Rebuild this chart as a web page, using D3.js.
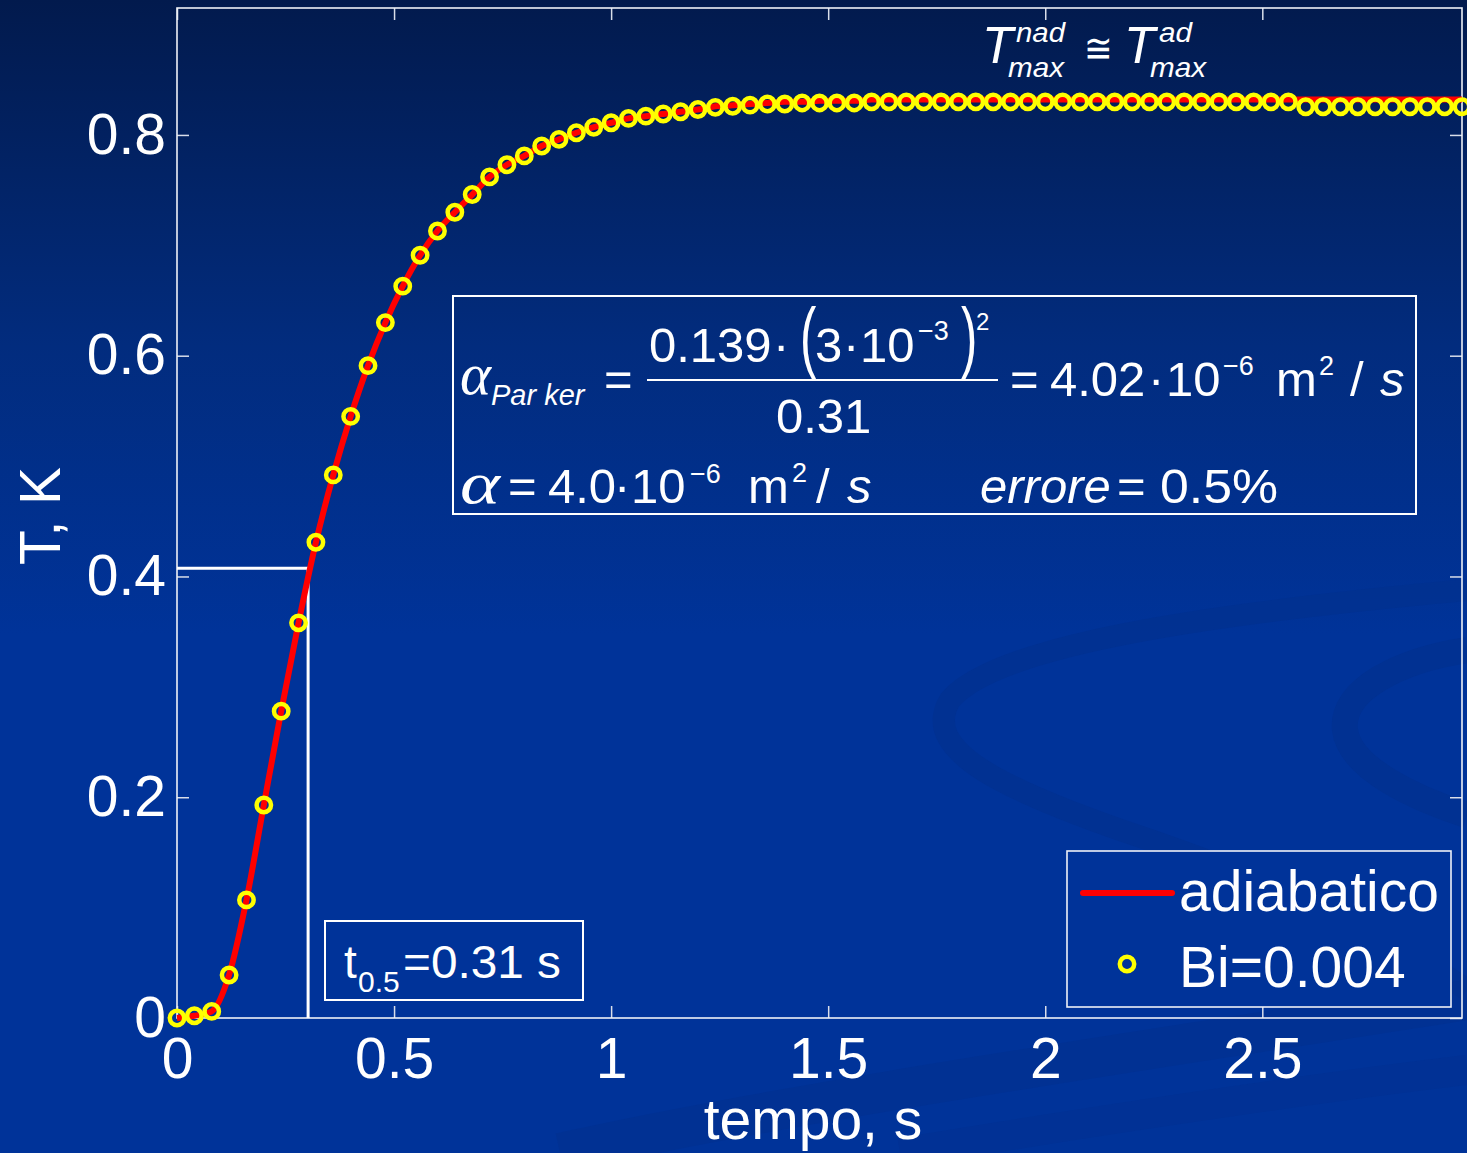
<!DOCTYPE html>
<html>
<head>
<meta charset="utf-8">
<script src="https://cdn.jsdelivr.net/npm/d3@7"></script>
<style>
  html, body { margin: 0; padding: 0; background: #003399; }
  svg { display: block; }
</style>
</head>
<body>
<svg id="chart" width="1467" height="1153"></svg>
<script>
// time samples (s)
const times = [0.00, 0.04, 0.08, 0.12, 0.16, 0.20, 0.24, 0.28, 0.32, 0.36,
  0.40, 0.44, 0.48, 0.52, 0.56, 0.60, 0.64, 0.68, 0.72, 0.76,
  0.80, 0.84, 0.88, 0.92, 0.96, 1.00, 1.04, 1.08, 1.12, 1.16,
  1.20, 1.24, 1.28, 1.32, 1.36, 1.40, 1.44, 1.48, 1.52, 1.56,
  1.60, 1.64, 1.68, 1.72, 1.76, 1.80, 1.84, 1.88, 1.92, 1.96,
  2.00, 2.04, 2.08, 2.12, 2.16, 2.20, 2.24, 2.28, 2.32, 2.36,
  2.40, 2.44, 2.48, 2.52, 2.56, 2.60, 2.64, 2.68, 2.72, 2.76,
  2.80, 2.84, 2.88, 2.92, 2.96];

// adiabatico (red line), T in K
const adiabatico = [0.000, 0.002, 0.006, 0.039, 0.107, 0.193, 0.278, 0.358, 0.431, 0.492,
  0.545, 0.591, 0.630, 0.663, 0.691, 0.713, 0.730, 0.746, 0.762, 0.773,
  0.781, 0.790, 0.796, 0.802, 0.807, 0.811, 0.815, 0.817, 0.819, 0.821,
  0.823, 0.826, 0.827, 0.828, 0.829, 0.830, 0.830, 0.831, 0.831, 0.831,
  0.832, 0.832, 0.832, 0.832, 0.832, 0.832, 0.832, 0.832, 0.832, 0.832,
  0.832, 0.832, 0.832, 0.832, 0.832, 0.832, 0.832, 0.832, 0.832, 0.832,
  0.832, 0.832, 0.832, 0.832, 0.832, 0.832, 0.832, 0.832, 0.832, 0.832,
  0.832, 0.832, 0.832, 0.832, 0.832];

// Bi=0.004 (yellow circles), T in K
const bi004 = [0.000, 0.002, 0.006, 0.039, 0.107, 0.193, 0.278, 0.358, 0.431, 0.492,
  0.545, 0.591, 0.630, 0.663, 0.691, 0.713, 0.730, 0.746, 0.762, 0.773,
  0.781, 0.790, 0.796, 0.802, 0.807, 0.811, 0.815, 0.817, 0.819, 0.821,
  0.823, 0.825, 0.826, 0.827, 0.828, 0.828, 0.829, 0.829, 0.829, 0.829,
  0.830, 0.830, 0.830, 0.830, 0.830, 0.830, 0.830, 0.830, 0.830, 0.830,
  0.830, 0.830, 0.830, 0.830, 0.830, 0.830, 0.830, 0.830, 0.830, 0.830,
  0.830, 0.830, 0.830, 0.830, 0.830, 0.8255, 0.8255, 0.8255, 0.8255, 0.8255,
  0.8255, 0.8255, 0.8255, 0.8255, 0.8255];

const xTicks = [0, 0.5, 1, 1.5, 2, 2.5];
const yTicks = [0, 0.2, 0.4, 0.6, 0.8];
const xTickLabels = ["0", "0.5", "1", "1.5", "2", "2.5"];
const yTickLabels = ["0", "0.2", "0.4", "0.6", "0.8"];

// half-rise guide lines
const halfTime = 0.302;
const halfTemp = 0.4075;

const seriesNames = ["adiabatico", "Bi=0.004"];

const svg = d3.select("#chart");
const W = 1467, H = 1153;
const FONT = "'Liberation Sans', Arial, sans-serif";
const SERIF = "'Liberation Serif', 'DejaVu Serif', serif";

// Background gradient
const defs = svg.append("defs");
const grad = defs.append("linearGradient")
    .attr("id", "bg").attr("x1", 0).attr("y1", 0).attr("x2", 0).attr("y2", 1);
grad.append("stop").attr("offset", 0).attr("stop-color", "#021a4d");
grad.append("stop").attr("offset", 0.3).attr("stop-color", "#022c7e");
grad.append("stop").attr("offset", 0.55).attr("stop-color", "#003399");
grad.append("stop").attr("offset", 1).attr("stop-color", "#003399");
svg.append("rect").attr("width", W).attr("height", H).attr("fill", "url(#bg)");

// Faint swirl decoration of the slide theme
const deco = svg.append("g").attr("fill", "none").attr("stroke", "#02308e");
deco.append("path")
    .attr("d", "M1467,590 C1250,610 1000,640 950,700 C920,750 1000,790 1150,840 C1280,885 1380,930 1467,990")
    .attr("stroke-width", 22).attr("opacity", 0.7);
deco.append("path")
    .attr("d", "M1467,650 C1400,660 1340,690 1345,730 C1350,770 1420,800 1467,815")
    .attr("stroke-width", 26).attr("opacity", 0.7);
deco.append("path")
    .attr("d", "M560,1153 C800,1100 1150,1050 1467,1000")
    .attr("stroke-width", 40).attr("opacity", 0.5);
deco.append("path")
    .attr("d", "M900,1153 C1100,1120 1300,1090 1467,1070")
    .attr("stroke-width", 30).attr("opacity", 0.4);

// Scales
const x = d3.scaleLinear().domain([0, 2.96]).range([177, 1462]);
const y = d3.scaleLinear().domain([0, 0.915]).range([1018, 8]);

// Axes (ticks inside on all four sides)
const tickColor = "#d9deea";
function styleAxis(g) {
  g.select(".domain").remove();
  g.selectAll(".tick line").attr("stroke", tickColor).attr("stroke-width", 1.5);
  g.selectAll("text").attr("fill", "#ffffff").attr("font-family", FONT).attr("font-size", 57);
}

svg.append("g")
    .attr("transform", "translate(0," + y(0) + ")")
    .call(d3.axisBottom(x).tickValues(xTicks).tickFormat((d, i) => xTickLabels[i])
      .tickSizeInner(-12).tickSizeOuter(0).tickPadding(20))
    .call(styleAxis);

svg.append("g")
    .attr("transform", "translate(" + x(0) + ",0)")
    .call(d3.axisLeft(y).tickValues(yTicks).tickFormat((d, i) => yTickLabels[i])
      .tickSizeInner(-12).tickSizeOuter(0).tickPadding(11))
    .call(styleAxis);

svg.append("g")
    .attr("transform", "translate(0," + y(0.915) + ")")
    .call(d3.axisTop(x).tickValues(xTicks).tickFormat("").tickSizeInner(-12).tickSizeOuter(0))
    .call(styleAxis);

svg.append("g")
    .attr("transform", "translate(" + x(2.96) + ",0)")
    .call(d3.axisRight(y).tickValues(yTicks).tickFormat("").tickSizeInner(-12).tickSizeOuter(0))
    .call(styleAxis);

// Axis box
svg.append("rect")
    .attr("x", x(0)).attr("y", y(0.915))
    .attr("width", x(2.96) - x(0)).attr("height", y(0) - y(0.915))
    .attr("fill", "none").attr("stroke", "#eef1f7").attr("stroke-width", 1.6);

// Half-rise guide lines
svg.append("path")
    .attr("d", d3.line()([[x(0), y(halfTemp)], [x(halfTime), y(halfTemp)], [x(halfTime), y(0)]]))
    .attr("fill", "none").attr("stroke", "#ffffff").attr("stroke-width", 3);

// Red line
const rows = times.map((t, i) => ({ t: t, a: adiabatico[i], b: bi004[i] }));
svg.append("path")
    .datum(rows)
    .attr("d", d3.line().x(d => x(d.t)).y(d => y(d.a)).curve(d3.curveMonotoneX))
    .attr("fill", "none").attr("stroke", "#ff0000").attr("stroke-width", 6)
    .attr("stroke-linejoin", "round");

// Yellow circles
svg.append("g").selectAll("circle")
    .data(rows)
    .enter().append("circle")
    .attr("cx", d => x(d.t)).attr("cy", d => y(d.b))
    .attr("r", 7.2).attr("fill", "none")
    .attr("stroke", "#ffff00").attr("stroke-width", 4.5);

// Axis titles
svg.append("text")
    .attr("x", 813).attr("y", 1139)
    .attr("text-anchor", "middle").attr("font-family", FONT).attr("font-size", 57)
    .attr("fill", "#ffffff").text("tempo, s");

svg.append("text")
    .attr("transform", "translate(60,516) rotate(-90)")
    .attr("text-anchor", "middle").attr("font-family", FONT).attr("font-size", 57)
    .attr("fill", "#ffffff").text("T, K");

// Legend
const legend = svg.append("g");
legend.append("rect")
    .attr("x", 1067).attr("y", 851).attr("width", 384).attr("height", 156)
    .attr("fill", "#003399").attr("stroke", "#eef1f7").attr("stroke-width", 1.6);
legend.append("line")
    .attr("x1", 1083).attr("x2", 1172).attr("y1", 893).attr("y2", 893)
    .attr("stroke", "#ff0000").attr("stroke-width", 6).attr("stroke-linecap", "round");
legend.append("circle")
    .attr("cx", 1127).attr("cy", 964).attr("r", 7.2)
    .attr("fill", "none").attr("stroke", "#ffff00").attr("stroke-width", 4.5);
legend.selectAll("text.lab")
    .data(seriesNames)
    .enter().append("text")
    .attr("class", "lab")
    .attr("x", 1179).attr("y", (d, i) => i === 0 ? 911 : 987)
    .attr("font-family", FONT).attr("font-size", 57).attr("fill", "#ffffff")
    .text(d => d);

// Annotation helper: one text piece
function piece(txt, px, py, size, opts) {
  opts = opts || {};
  const el = svg.append("text")
      .attr("font-family", opts.serif ? SERIF : FONT)
      .attr("font-size", size)
      .attr("font-style", opts.italic ? "italic" : "normal")
      .attr("fill", "#ffffff")
      .text(txt);
  if (opts.sy) {
    el.attr("transform", "translate(" + px + "," + py + ") scale(1," + opts.sy + ")");
  } else {
    el.attr("x", px).attr("y", py);
  }
  if (opts.len) el.attr("textLength", opts.len).attr("lengthAdjust", "spacingAndGlyphs");
  return el;
}

// t0.5 box
svg.append("rect")
    .attr("x", 325).attr("y", 921).attr("width", 258).attr("height", 79)
    .attr("fill", "none").attr("stroke", "#ffffff").attr("stroke-width", 2);
piece("t", 344, 978, 46);
piece("0.5", 358, 992, 30);
piece("=0.31 s", 403, 978, 46, { len: 158 });

// Tmax header
piece("T", 982, 63, 51, { italic: true });
piece("nad", 1016, 42, 27, { italic: true, len: 49 });
piece("max", 1008, 77, 28, { italic: true, len: 56 });
piece("\u2245", 1084, 62, 40, { len: 29 });
piece("T", 1124, 63, 51, { italic: true });
piece("ad", 1159, 42, 27, { italic: true, len: 33 });
piece("max", 1150, 77, 28, { italic: true, len: 56 });

// Parker formula box
svg.append("rect")
    .attr("x", 453).attr("y", 296).attr("width", 963).attr("height", 218)
    .attr("fill", "none").attr("stroke", "#ffffff").attr("stroke-width", 2);

const M = 49, S = 27;
// row 1
piece("\u03b1", 460, 394, 60, { serif: true, italic: true, len: 31 });
piece("Par ker", 491, 405, 29, { italic: true });
piece("=", 604, 396, M);
piece("0.139", 649, 362, M);
piece("\u00b7", 773, 362, M);
piece("(", 800, 363, M, { sy: 1.6 });
piece("3", 815, 362, M);
piece("\u00b7", 843, 362, M);
piece("10", 860, 362, M);
piece("\u22123", 918, 340, S);
piece(")", 961, 363, M, { sy: 1.6 });
piece("2", 976, 330, 24);
svg.append("line")
    .attr("x1", 647).attr("x2", 998).attr("y1", 380).attr("y2", 380)
    .attr("stroke", "#ffffff").attr("stroke-width", 2);
piece("0.31", 776, 433, M);
piece("=", 1010, 396, M);
piece("4.02", 1050, 396, M);
piece("\u00b7", 1148, 396, M);
piece("10", 1166, 396, M);
piece("\u22126", 1223, 375, S);
piece("m", 1276, 396, M);
piece("2", 1319, 375, S);
piece("/", 1350, 396, M);
piece("s", 1380, 396, M, { italic: true });

// row 2
piece("\u03b1", 460, 503, 60, { serif: true, italic: true, len: 40 });
piece("=", 508, 503, M);
piece("4.0", 548, 503, M);
piece("\u00b7", 614, 503, M);
piece("10", 631, 503, M);
piece("\u22126", 690, 483, S);
piece("m", 748, 503, M);
piece("2", 792, 482, S);
piece("/", 816, 503, M);
piece("s", 847, 503, M, { italic: true });
piece("errore", 980, 503, M, { italic: true });
piece("=", 1117, 503, M);
piece("0.5%", 1160, 503, M, { len: 118 });
</script>
</body>
</html>
